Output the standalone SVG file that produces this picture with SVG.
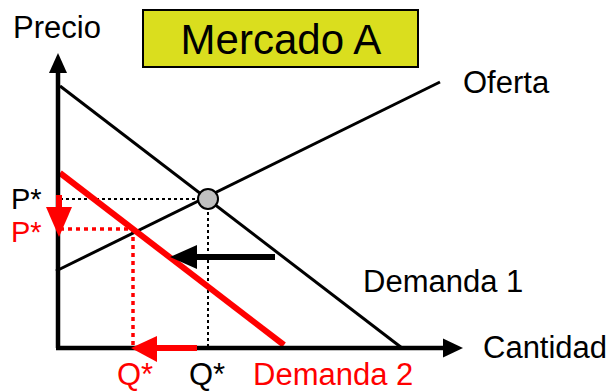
<svg xmlns="http://www.w3.org/2000/svg" width="613" height="392" viewBox="0 0 613 392">
<style>
text{font-family:"Liberation Sans",Arial,sans-serif;font-size:31px;fill:#000}
.red{fill:#ff0000}
.pl{font-size:29px}
.ln{stroke:#000;stroke-width:3;fill:none}
.dot{stroke:#000;stroke-width:2;stroke-dasharray:3,3;fill:none}
.rdot{stroke:#ff0000;stroke-width:3.5;stroke-dasharray:4,4;fill:none}
</style>
<rect width="613" height="392" fill="#fff"/>
<g id="title">
<rect x="143" y="10" width="275" height="57" fill="#dade1e" stroke="#000" stroke-width="2"/>
<text x="281" y="54" text-anchor="middle" style="font-size:42px">Mercado A</text>
</g>
<g id="connectors">
<line class="dot" x1="60" y1="199" x2="200" y2="199"/>
<line class="dot" x1="208" y1="206" x2="208" y2="346"/>
<line class="rdot" x1="60" y1="229" x2="133" y2="229"/>
<line class="rdot" x1="133" y1="229" x2="133" y2="346"/>
<line class="ln" x1="60" y1="86" x2="402" y2="348"/>
<line class="ln" x1="56" y1="271" x2="440" y2="82"/>
<line x1="60" y1="173" x2="284" y2="345" stroke="#ff0000" stroke-width="6"/>
<line x1="58" y1="348" x2="58" y2="70" stroke="#000" stroke-width="4.5"/>
<polygon points="58,53 49,73 67,73" fill="#000"/>
<line x1="56" y1="348" x2="446" y2="348" stroke="#000" stroke-width="4.5"/>
<polygon points="463,348 443,338.5 443,357.5" fill="#000"/>
<line x1="59" y1="195" x2="59" y2="210" stroke="#ff0000" stroke-width="6"/>
<polygon points="59,237 46,207 72,207" fill="#ff0000"/>
<line x1="197" y1="348" x2="153" y2="348" stroke="#ff0000" stroke-width="6"/>
<polygon points="131,348 157,336 157,362" fill="#ff0000"/>
<line x1="275" y1="257" x2="192" y2="257" stroke="#000" stroke-width="6"/>
<polygon points="170,257 197,245 197,269" fill="#000"/>
</g>
<g id="equilibrium">
<circle cx="208" cy="199" r="10" fill="#c0c0c0" stroke="#000" stroke-width="2"/>
</g>
<g id="labels">
<text x="13" y="38">Precio</text>
<text x="463" y="93">Oferta</text>
<text x="363" y="292">Demanda 1</text>
<text x="483" y="358">Cantidad</text>
<text class="pl" x="11" y="209">P*</text>
<text class="pl red" x="11" y="242">P*</text>
<text class="red" x="117" y="385">Q*</text>
<text x="189" y="385">Q*</text>
<text class="red" x="253" y="385">Demanda 2</text>
</g>
</svg>
